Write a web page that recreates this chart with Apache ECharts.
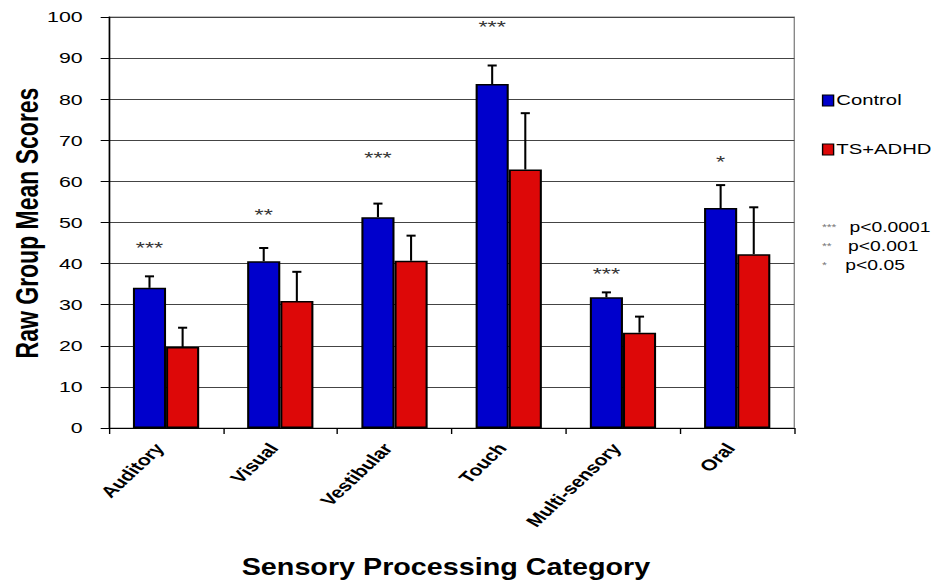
<!DOCTYPE html>
<html><head><meta charset="utf-8">
<script src="https://cdn.jsdelivr.net/npm/echarts@6/dist/echarts.min.js"></script>
<style>
html,body{margin:0;padding:0;background:#fff}
#wrap{width:935px;height:585px;overflow:hidden;background:#fff}
#c{width:678px;height:585px;transform:scaleX(1.379);transform-origin:0 0}
</style>
</head><body><div id="wrap"><div id="c"></div></div>
<script>
const categories = ['Auditory','Visual','Vestibular','Touch','Multi-sensory','Oral'];
const controlMean = [34.1, 40.6, 51.3, 83.7, 31.8, 53.5];
const controlErrTop = [36.9, 43.8, 54.6, 88.2, 33.0, 59.1];
const tsMean = [19.7, 30.9, 40.7, 62.9, 23.2, 42.3];
const tsErrTop = [24.4, 38.0, 46.8, 76.6, 27.1, 53.7];
const stars = ['***','**','***','***','***','*'];
const starLevel = [44.5, 52.5, 66.4, 98.3, 38.2, 65.4];
const yTicks = [0,10,20,30,40,50,60,70,80,90,100];

const FONT = 'Liberation Sans, Arial, sans-serif';
const GAP = 0.42;
function errItem(sign){
  return function(params, api){
    const c = api.value(0), top = api.value(1), mean = api.value(2);
    const cw = api.size([1,0])[0];
    const bw = cw*(1-GAP)/2;
    const x = api.coord([c,0])[0] + sign*bw/2;
    const yTop = api.coord([c,top])[1];
    const yMean = api.coord([c,mean])[1];
    const cap = 3.3;
    return {type:'group', children:[
      {type:'line', shape:{x1:x,y1:yMean,x2:x,y2:yTop}, style:{stroke:'#000',lineWidth:1.5}},
      {type:'line', shape:{x1:x-cap,y1:yTop,x2:x+cap,y2:yTop}, style:{stroke:'#000',lineWidth:2}}
    ]};
  };
}
const chart = echarts.init(document.getElementById('c'), null, {renderer:'svg'});
chart.setOption({
  animation:false,
  backgroundColor:'#fff',
  textStyle:{fontFamily:FONT},
  grid:{left:79,right:102,top:17,bottom:157,show:true,borderColor:'#888',borderWidth:1,
        containLabel:false,outerBoundsMode:'none'},
  legend:{
    orient:'vertical', left:596, top:93, padding:0, itemWidth:8, itemHeight:11, itemGap:34,
    icon:'rect',
    itemStyle:{borderColor:'#000',borderWidth:1},
    textStyle:{fontSize:14.7,color:'#000',fontFamily:FONT,padding:[0,0,0,-3]},
    data:['Control','TS+ADHD']
  },
  xAxis:{
    type:'category', data:categories,
    axisLine:{lineStyle:{color:'#000',width:1}},
    axisTick:{show:true,length:6,lineStyle:{color:'#000'}},
    axisLabel:{rotate:52,fontSize:15.5,fontWeight:'bold',color:'#000',margin:11,padding:[0,8,0,0],fontFamily:FONT}
  },
  yAxis:{
    type:'value', min:0, max:100, interval:10,
    axisLine:{show:true,lineStyle:{color:'#000',width:1}},
    axisTick:{show:true,length:6,lineStyle:{color:'#000'}},
    axisLabel:{fontSize:15.5,color:'#000',margin:19,fontFamily:FONT,formatter:v=>yTicks.includes(v)?String(v):''},
    splitLine:{lineStyle:{color:'#444',width:1}}
  },
  series:[
    {name:'Control',type:'bar',data:controlMean,barGap:'0%',barCategoryGap:(GAP*100)+'%',
     itemStyle:{color:'#0000CC',borderColor:'#000',borderWidth:1.5}},
    {name:'TS+ADHD',type:'bar',data:tsMean,
     itemStyle:{color:'#DD0808',borderColor:'#000',borderWidth:1.5}},
    {type:'custom',renderItem:errItem(-1),z:5,
     data:categories.map((_,i)=>[i,controlErrTop[i],controlMean[i]])},
    {type:'custom',renderItem:errItem(1),z:5,
     data:categories.map((_,i)=>[i,tsErrTop[i],tsMean[i]])},
    {type:'custom',z:6,
     renderItem:function(params,api){
       const c=api.value(0), lvl=api.value(1);
       const cw=api.size([1,0])[0]; const bw=cw*(1-GAP)/2;
       const p=api.coord([c,lvl]);
       return {type:'text',x:p[0]-bw/2,y:p[1]+3,
         style:{text:stars[params.dataIndex],fontSize:17,fill:'#333',align:'center',verticalAlign:'middle',
           fontFamily:FONT}};
     },
     data:categories.map((_,i)=>[i,starLevel[i]])}
  ],
  graphic:[
    {type:'text',x:20,y:223,rotation:Math.PI/2,
     style:{text:'Raw Group Mean Scores',fontSize:23,fontWeight:'bold',fill:'#000',align:'center',verticalAlign:'middle',fontFamily:FONT}},
    {type:'text',x:323.4,y:567,scaleX:0.85,
     style:{text:'Sensory Processing Category',fontSize:24.5,fontWeight:'bold',fill:'#000',align:'center',verticalAlign:'middle',fontFamily:FONT}},
    {type:'text',left:596,top:222,style:{text:'***',fontSize:9,fill:'#777',fontFamily:FONT}},
    {type:'text',left:616,top:220,style:{text:'p<0.0001',fontSize:14,fill:'#000',fontFamily:FONT}},
    {type:'text',left:596,top:241,style:{text:'**',fontSize:9,fill:'#777',fontFamily:FONT}},
    {type:'text',left:615,top:239,style:{text:'p<0.001',fontSize:14,fill:'#000',fontFamily:FONT}},
    {type:'text',left:596,top:260,style:{text:'*',fontSize:9,fill:'#777',fontFamily:FONT}},
    {type:'text',left:613,top:258,style:{text:'p<0.05',fontSize:14,fill:'#000',fontFamily:FONT}}
  ]
});
</script></body></html>
